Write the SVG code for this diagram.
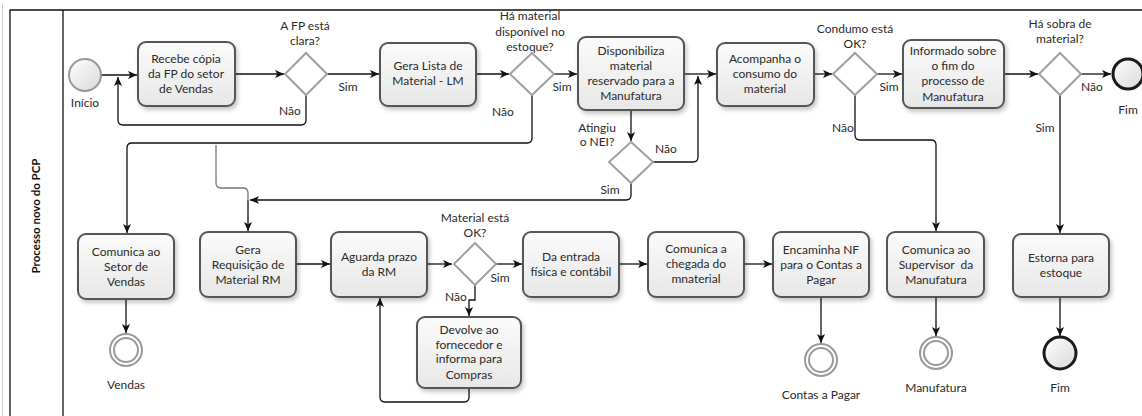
<svg xmlns="http://www.w3.org/2000/svg" width="1142" height="416" viewBox="0 0 1142 416">
<style>
text{font-family:Lato,"Open Sans","DejaVu Sans",sans-serif;font-size:12px;fill:#2a2a2a;text-anchor:middle;white-space:pre}
.task{fill:url(#tg);stroke:#555;stroke-width:2;filter:url(#sh)}
.gw{fill:#fff;stroke:#a0a0a0;stroke-width:2}
.flow{fill:none;stroke:#111;stroke-width:1.3}
.flowg{fill:none;stroke:#777;stroke-width:1.3}
.start{fill:url(#cg);stroke:#999;stroke-width:2}
.end{fill:url(#cg);stroke:#1a1a1a;stroke-width:3}
.ie{fill:#fff;stroke:#9a9a9a;stroke-width:2}
.pool{fill:none;stroke:#111;stroke-width:1.3}
.title{font-weight:bold;font-size:11.5px;fill:#111}
</style>
<defs>
<linearGradient id="tg" x1="0" y1="0" x2="0" y2="1"><stop offset="0" stop-color="#fbfbfb"/><stop offset="1" stop-color="#e7e7e7"/></linearGradient>
<linearGradient id="cg" x1="0" y1="0" x2="1" y2="1"><stop offset="0" stop-color="#ffffff"/><stop offset="1" stop-color="#d8d8d8"/></linearGradient>
<filter id="sh" x="-10%" y="-10%" width="130%" height="140%"><feDropShadow dx="2" dy="3" stdDeviation="2" flood-color="#000" flood-opacity="0.22"/></filter>
<marker id="arr" viewBox="0 0 10 10" refX="10" refY="5" markerWidth="9" markerHeight="9" markerUnits="userSpaceOnUse" orient="auto"><path d="M0,0.5 L10,5 L0,9.5 L2.5,5 z" fill="#111"/></marker>
</defs>
<rect width="1142" height="416" fill="#fff"/>
<g id="pool">
<line x1="2.5" y1="3" x2="2.5" y2="416" stroke="#ccc" stroke-width="1"/>
<path class="pool" d="M1142,10 H10 V416"/>
<line class="pool" x1="63" y1="10" x2="63" y2="416"/>
<text class="title" transform="translate(40,216) rotate(-90)">Processo novo do PCP</text>
</g>
<g id="connectors">
<path class="flow" d="M101,75 H137" marker-end="url(#arr)"/>
<path class="flow" d="M235,74 H284" marker-end="url(#arr)"/>
<path class="flow" d="M306,95 V120 Q306,125 301,125 H123 Q118,125 118,120 V77" marker-end="url(#arr)"/>
<path class="flow" d="M327,74 H379" marker-end="url(#arr)"/>
<path class="flow" d="M476,74 H509" marker-end="url(#arr)"/>
<path class="flow" d="M554,74 H577" marker-end="url(#arr)"/>
<path class="flow" d="M532,95 V138 Q532,143 527,143 H132 Q127,143 127,148 V233" marker-end="url(#arr)"/>
<path class="flowg" d="M216,145 V183 Q216,188 221,188 H243 Q248,188 248,193 V200"/>
<path class="flow" d="M248,200 V231" marker-end="url(#arr)"/>
<path class="flow" d="M684,74 H716" marker-end="url(#arr)"/>
<path class="flow" d="M631,110 V141" marker-end="url(#arr)"/>
<path class="flow" d="M653,162 H693 Q698,162 698,157 V76" marker-end="url(#arr)"/>
<path class="flow" d="M631,183 V195 Q631,200 626,200 H250" marker-end="url(#arr)"/>
<path class="flow" d="M814,74 H832" marker-end="url(#arr)"/>
<path class="flow" d="M855,95 V135 Q855,140 860,140 H931 Q936,140 936,145 V231" marker-end="url(#arr)"/>
<path class="flow" d="M877,74 H902" marker-end="url(#arr)"/>
<path class="flow" d="M1004,74 H1038" marker-end="url(#arr)"/>
<path class="flow" d="M1081,74 H1111" marker-end="url(#arr)"/>
<path class="flow" d="M1060,95 V233" marker-end="url(#arr)"/>
<path class="flow" d="M1060,297 V336" marker-end="url(#arr)"/>
<path class="flow" d="M936,297 V336" marker-end="url(#arr)"/>
<path class="flow" d="M821,297 V343" marker-end="url(#arr)"/>
<path class="flow" d="M126,299 V333" marker-end="url(#arr)"/>
<path class="flow" d="M296,264 H330" marker-end="url(#arr)"/>
<path class="flow" d="M427,264 H452" marker-end="url(#arr)"/>
<path class="flow" d="M496,264 H522" marker-end="url(#arr)"/>
<path class="flow" d="M619,264 H647" marker-end="url(#arr)"/>
<path class="flow" d="M744,264 H772" marker-end="url(#arr)"/>
<path class="flow" d="M475,285 V300 H469 V316" marker-end="url(#arr)"/>
<path class="flow" d="M469,388 V397 Q469,402 464,402 H385 Q380,402 380,397 V298" marker-end="url(#arr)"/>
</g>
<g id="labels">
<text x="290" y="115">Não</text>
<text x="348" y="91">Sim</text>
<text x="503" y="116">Não</text>
<text x="562" y="91">Sim</text>
<text x="666" y="153">Não</text>
<text x="610" y="194">Sim</text>
<text x="843" y="132">Não</text>
<text x="889" y="91">Sim</text>
<text x="1092" y="91">Não</text>
<text x="1045" y="132">Sim</text>
<text x="500" y="282">Sim</text>
<text x="456" y="301">Não</text>
</g>
<g id="start"><circle class="start" cx="85" cy="75" r="16"/><text x="85" y="107">Início</text></g>
<g id="t1"><rect class="task" x="138" y="42" width="97" height="64" rx="8"/><text x="186" y="63">Recebe cópia</text><text x="186" y="78">da FP do setor</text><text x="186" y="93">de Vendas</text></g>
<g id="g1"><polygon class="gw" points="306,53 327,74 306,95 285,74"/><text x="305" y="30">A FP está</text><text x="305" y="45">clara?</text></g>
<g id="t2"><rect class="task" x="380" y="43" width="96" height="63" rx="8"/><text x="428" y="70">Gera Lista de</text><text x="428" y="85">Material - LM</text></g>
<g id="g2"><polygon class="gw" points="532,53 554,74 532,95 510,74"/><text x="530" y="20">Há material</text><text x="530" y="36">disponível no</text><text x="530" y="51">estoque?</text></g>
<g id="t3"><rect class="task" x="578" y="37" width="106" height="73" rx="8"/><text x="631" y="55">Disponibiliza</text><text x="631" y="70">material</text><text x="631" y="85">reservado para a</text><text x="631" y="100">Manufatura</text></g>
<g id="gNEI"><polygon class="gw" points="631,142 653,162 631,183 609,162"/><text x="597" y="132">Atingiu</text><text x="597" y="146">o NEI?</text></g>
<g id="t4"><rect class="task" x="717" y="43" width="97" height="63" rx="8"/><text x="765" y="63">Acompanha o</text><text x="765" y="78">consumo do</text><text x="765" y="93">material</text></g>
<g id="g3"><polygon class="gw" points="855,53 877,74 855,95 833,74"/><text x="855" y="33">Condumo está</text><text x="855" y="48">OK?</text></g>
<g id="t5"><rect class="task" x="903" y="40" width="101" height="68" rx="8"/><text x="953" y="55">Informado sobre</text><text x="953" y="70">o fim do</text><text x="953" y="85">processo de</text><text x="953" y="101">Manufatura</text></g>
<g id="g4"><polygon class="gw" points="1060,53 1081,74 1060,95 1039,74"/><text x="1060" y="28">Há sobra de</text><text x="1060" y="43">material?</text></g>
<g id="end1"><circle class="end" cx="1128" cy="74" r="15"/><text x="1128" y="114">Fim</text></g>
<g id="t6"><rect class="task" x="78" y="234" width="96" height="65" rx="8"/><text x="126" y="256">Comunica ao</text><text x="126" y="271">Setor de</text><text x="126" y="286">Vendas</text></g>
<g id="eVendas"><circle class="ie" cx="126" cy="350" r="16"/><circle class="ie" cx="126" cy="350" r="12"/><text x="126" y="389">Vendas</text></g>
<g id="t7"><rect class="task" x="200" y="232" width="96" height="65" rx="8"/><text x="248" y="254">Gera</text><text x="248" y="269">Requisição de</text><text x="248" y="284">Material RM</text></g>
<g id="t8"><rect class="task" x="331" y="232" width="96" height="65" rx="8"/><text x="379" y="261">Aguarda prazo</text><text x="379" y="276">da RM</text></g>
<g id="g5"><polygon class="gw" points="475,243 496,264 475,285 454,264"/><text x="475" y="222">Material está</text><text x="475" y="237">OK?</text></g>
<g id="t9"><rect class="task" x="417" y="317" width="104" height="71" rx="8"/><text x="469" y="334">Devolve ao</text><text x="469" y="349">fornecedor e</text><text x="469" y="363">informa para</text><text x="469" y="379">Compras</text></g>
<g id="t10"><rect class="task" x="523" y="232" width="96" height="65" rx="8"/><text x="571" y="261">Da entrada</text><text x="571" y="276">física e contábil</text></g>
<g id="t11"><rect class="task" x="648" y="232" width="96" height="65" rx="8"/><text x="696" y="253">Comunica a</text><text x="696" y="268">chegada do</text><text x="696" y="283">mnaterial</text></g>
<g id="t12"><rect class="task" x="773" y="232" width="96" height="65" rx="8"/><text x="821" y="254">Encaminha NF</text><text x="821" y="269">para o Contas a</text><text x="821" y="284">Pagar</text></g>
<g id="eContas"><circle class="ie" cx="821" cy="360" r="16"/><circle class="ie" cx="821" cy="360" r="12"/><text x="821" y="399">Contas a Pagar</text></g>
<g id="t13"><rect class="task" x="887" y="232" width="97" height="65" rx="8"/><text x="936" y="254">Comunica ao</text><text x="936" y="269">Supervisor  da</text><text x="936" y="284">Manufatura</text></g>
<g id="eManuf"><circle class="ie" cx="936" cy="353" r="16"/><circle class="ie" cx="936" cy="353" r="12"/><text x="936" y="392">Manufatura</text></g>
<g id="t14"><rect class="task" x="1013" y="234" width="96" height="63" rx="8"/><text x="1061" y="262">Estorna para</text><text x="1061" y="277">estoque</text></g>
<g id="end2"><circle class="end" cx="1060" cy="353" r="16"/><text x="1060" y="392">Fim</text></g>
</svg>
